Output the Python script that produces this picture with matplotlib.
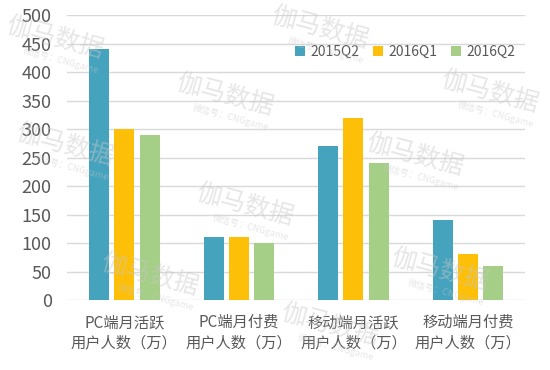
import matplotlib
matplotlib.use("Agg")
import matplotlib.pyplot as plt
import numpy as np

plt.rcParams['font.family'] = ['Noto Sans CJK SC', 'DejaVu Sans']

categories = ["PC端月活跃\n用户人数（万）", "PC端月付费\n用户人数（万）",
              "移动端月活跃\n用户人数（万）", "移动端月付费\n用户人数（万）"]
series_names = ["2015Q2", "2016Q1", "2016Q2"]
v_2015q2 = [440, 110, 270, 140]
v_2016q1 = [300, 110, 320, 80]
v_2016q2 = [290, 100, 240, 60]
yticks = np.arange(0, 501, 50)

colors = ["#46A3BD", "#FDBF08", "#A5CF86"]
text_col = "#595959"

fig = plt.figure(figsize=(5.5, 3.7), dpi=100)
ax = fig.add_axes([0.122, 0.189, 0.833, 0.770])

x = np.arange(len(categories))
w = 0.175
step = 0.22
for i, (vals, name) in enumerate(zip([v_2015q2, v_2016q1, v_2016q2], series_names)):
    ax.bar(x + (i - 1) * step, vals, width=w, color=colors[i], label=name, zorder=3)

ax.set_xlim(-0.5, len(categories) - 0.5)
ax.set_ylim(0, 500)
ax.set_yticks(yticks)
ax.yaxis.grid(True, color="#d9d9d9", linewidth=1, zorder=0)
for s in ax.spines.values():
    s.set_visible(False)
ax.tick_params(axis="y", length=0, pad=11, labelsize=13, labelcolor=text_col)
ax.set_xticks(x)
ax.set_xticklabels(categories, fontsize=11, color=text_col, linespacing=1.25)
ax.tick_params(axis="x", length=0, pad=10)

leg = ax.legend(loc="upper left", bbox_to_anchor=(0.47, 0.94), ncol=3, frameon=False,
                fontsize=10, handlelength=0.7, handleheight=0.7, handletextpad=0.4,
                columnspacing=1.0, labelcolor=text_col)

# faint watermarks
wm = [(55, 38), (225, 95), (65, 145), (245, 205), (150, 275), (320, 28),
      (490, 92), (415, 155), (440, 270), (330, 325)]
for px, py in wm:
    fig.text(px / 550, 1 - py / 370, "伽马数据", fontsize=18, color="#c8c8c8",
             alpha=0.45, rotation=-15, ha="center", va="center", zorder=10)
    fig.text(px / 550 + 0.01, 1 - (py + 22) / 370, "微信号：CNGgame", fontsize=6.5,
             color="#c8c8c8", alpha=0.45, rotation=-15, ha="center", va="center", zorder=10)

fig.savefig("out.png", dpi=100)
